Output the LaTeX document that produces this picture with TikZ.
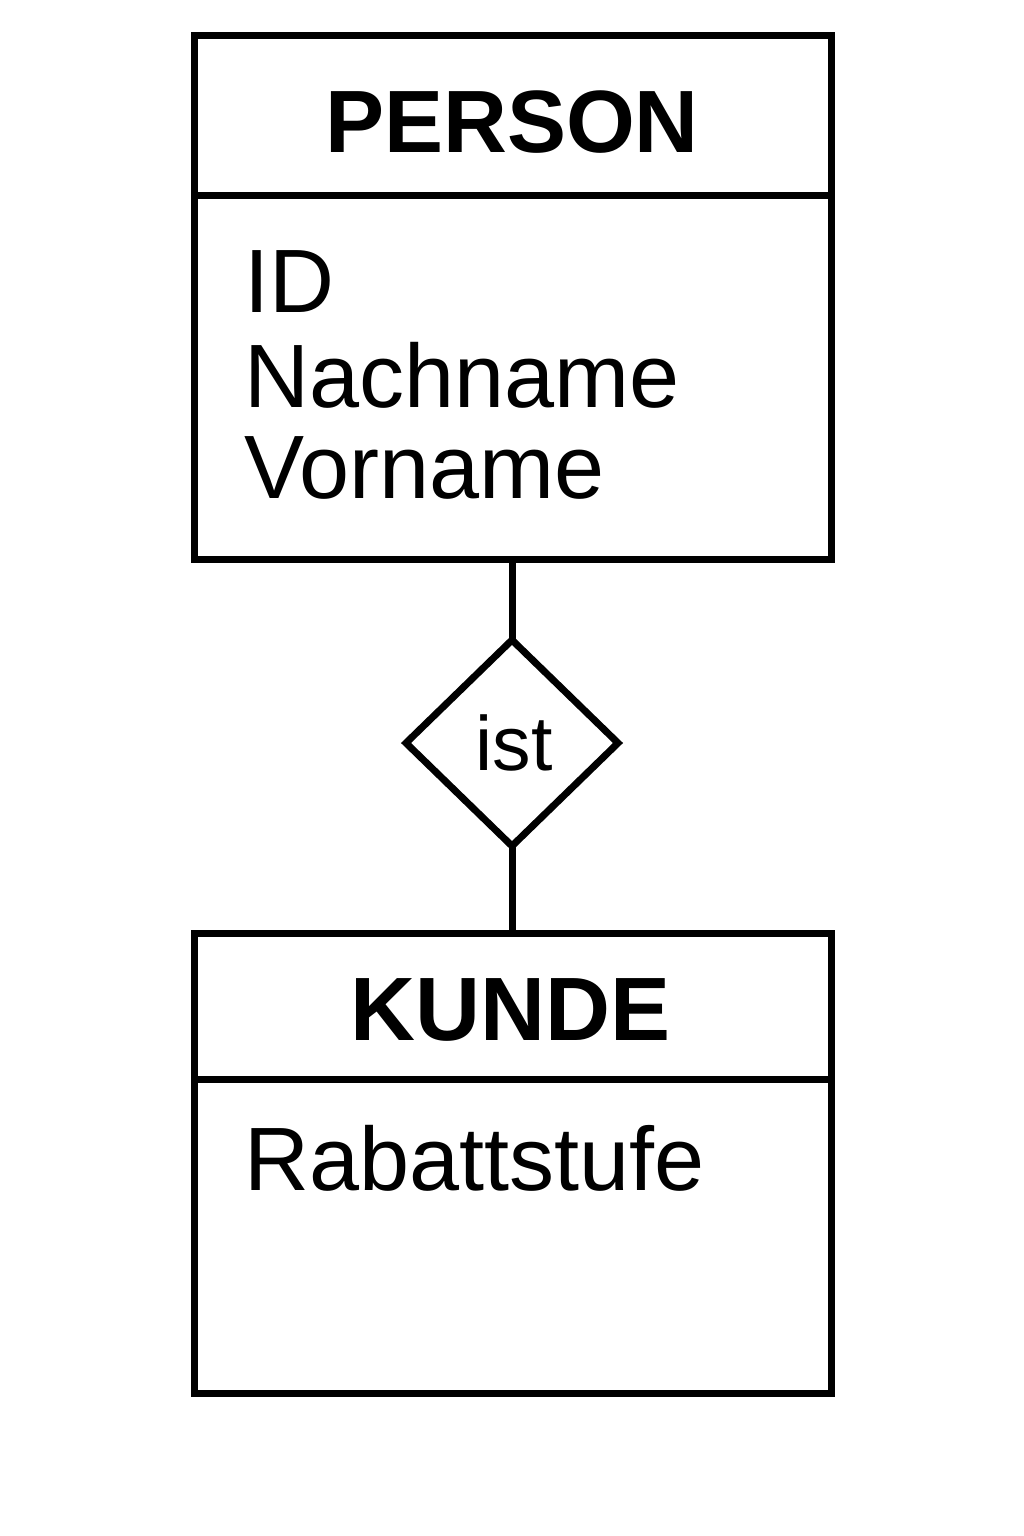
\documentclass[tikz,border=0pt]{standalone}
\usepackage{fontspec}
\setmainfont{Liberation Sans}
\usetikzlibrary{shapes.geometric}
\begin{document}
\begin{tikzpicture}[x=1pt,y=-1pt,
  ent/.style={draw=black, line width=7pt, rectangle, inner sep=0pt, outer sep=0pt, anchor=north west},
  rel/.style={draw=black, line width=7pt, diamond, inner sep=0pt, outer sep=0pt},
  title/.style={inner sep=0pt, anchor=base, font=\fontsize{90}{100}\selectfont\bfseries},
  attr/.style={inner sep=0pt, anchor=base west, font=\fontsize{90}{100}\selectfont},
  conn/.style={line width=7pt, draw=black}]
\useasboundingbox[fill=white] (0,0) rectangle (1024,1536);
% PERSON entity
\node[ent, minimum width=637pt, minimum height=523pt] (person) at (194,36) {};
\draw[conn] (person.west |- 0,195) coordinate (pdl) -- (person.east |- 0,195) coordinate (pdr);
\node[title, font=\fontsize{88.5}{100}\selectfont\bfseries] (ptitle) at (512,152) {PERSON};
\node[attr] (aid) at (244,312) {ID};
\node[attr] (anach) at (244,407) {Nachname};
\node[attr] (avor) at (244,498) {Vorname};
% relationship
\node[rel, minimum width=212pt, minimum height=206pt] (ist) at (512,743) {};
\node[inner sep=0pt, anchor=base, font=\fontsize{77}{80}\selectfont] (isttext) at (514,770) {ist};
% KUNDE entity
\node[ent, minimum width=637pt, minimum height=460pt] (kunde) at (194,933) {};
\draw[conn] (kunde.west |- 0,1079) coordinate (kdl) -- (kunde.east |- 0,1079) coordinate (kdr);
\node[title] (ktitle) at (511,1040) {KUNDE};
\node[attr] (arab) at (244,1190) {Rabattstufe};
% connectors
\draw[conn] (ist.north |- person.south) -- (ist.north);
\draw[conn] (ist.south) -- (ist.south |- kunde.north);
\end{tikzpicture}
\end{document}
